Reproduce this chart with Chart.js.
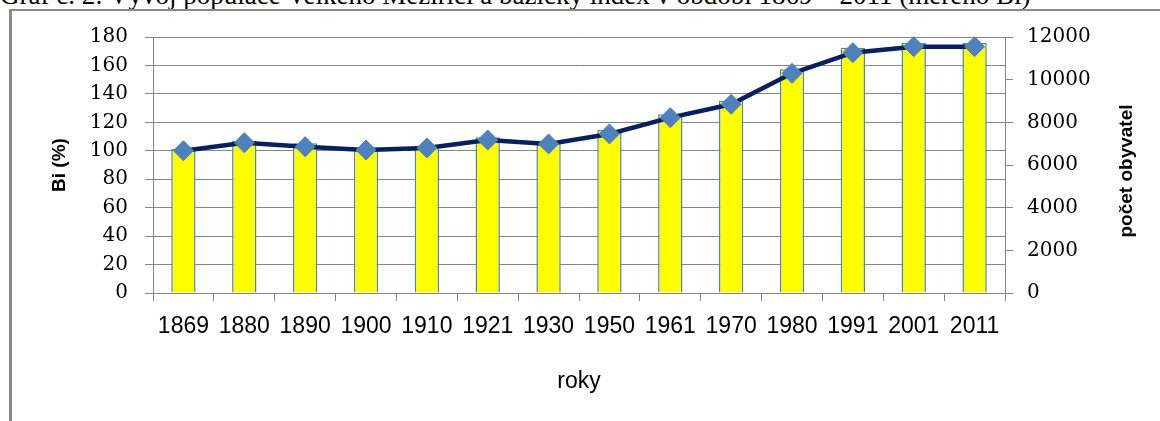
<!DOCTYPE html>
<html>
<head>
<meta charset="utf-8">
<script src="https://cdn.jsdelivr.net/npm/chart.js@4"></script>
<style>
html,body{margin:0;padding:0;background:#fff;overflow:hidden}
#wrap{position:relative;width:1160px;height:421px;overflow:hidden}
#frame{position:absolute;left:9px;top:9px;width:1200px;height:500px;border-left:3px solid #8a8a8a;border-top:2px solid #8a8a8a;box-sizing:border-box}
#title{position:absolute;left:0;top:-20px;font-family:"Liberation Serif",serif;font-size:27px;line-height:31px;white-space:nowrap;color:#000}
canvas{position:absolute;left:0;top:0}
</style>
</head>
<body>
<div id="wrap">
  <div id="title">Graf č. 2: Vývoj populace Velkého Meziříčí a bazický index v období 1869 – 2011 (měřeno Bi)</div>
  <div id="frame"></div>
  <canvas id="c" width="1160" height="421"></canvas>
</div>
<script>
// ---- data ----
const years = ['1869','1880','1890','1900','1910','1921','1930','1950','1961','1970','1980','1991','2001','2011'];
const population = [6750, 7140, 7020, 6780, 6900, 7300, 7050, 7640, 8380, 9010, 10490, 11500, 11730, 11730];
const baseIndex = [100, 105.7, 102.9, 100.5, 102, 107.6, 104.8, 111.8, 123.3, 132.7, 154.5, 169, 173.2, 173.2];
const leftTicks = [0, 20, 40, 60, 80, 100, 120, 140, 160, 180];
const rightTicks = [0, 2000, 4000, 6000, 8000, 10000, 12000];
const xTitle = 'roky';
const leftTitle = 'Bi (%)';
const rightTitle = 'počet obyvatel';

const GRID = '#868686';

const rightTitlePlugin = {
  id: 'rightTitle',
  afterDraw(chart) {
    const ctx = chart.ctx;
    const a = chart.chartArea;
    ctx.save();
    ctx.translate(1127, (a.top + a.bottom) / 2 + 6);
    ctx.rotate(-Math.PI / 2);
    ctx.font = 'bold 19px "Liberation Sans"';
    ctx.fillStyle = '#000';
    ctx.textAlign = 'center';
    ctx.textBaseline = 'middle';
    ctx.fillText(rightTitle, 0, 0);
    ctx.restore();
  }
};

new Chart(document.getElementById('c'), {
  data: {
    labels: years,
    datasets: [
      {
        type: 'line',
        label: 'Bi',
        data: baseIndex,
        yAxisID: 'y',
        borderColor: '#0A1F5E',
        borderWidth: 4.5,
        tension: 0,
        pointStyle: 'rectRot',
        pointRadius: 10,
        pointBackgroundColor: '#4F81BD',
        pointBorderColor: '#4F81BD',
        pointBorderWidth: 1,
        order: 0,
        clip: false
      },
      {
        type: 'bar',
        label: 'počet obyvatel',
        data: population,
        yAxisID: 'y1',
        backgroundColor: '#FFFF00',
        borderColor: '#4F81BD',
        borderWidth: 1.5,
        barPercentage: 0.4,
        categoryPercentage: 1,
        order: 1
      }
    ]
  },
  options: {
    responsive: false,
    animation: false,
    layout: { padding: { top: 37, left: 0, right: 0, bottom: 0 } },
    plugins: { legend: { display: false }, tooltip: { enabled: false } },
    scales: {
      x: {
        offset: true,
        grid: { drawOnChartArea: false, offset: true, tickLength: 8, color: GRID },
        border: { color: GRID, width: 1 },
        ticks: { color: '#000', font: { family: 'Liberation Sans', size: 23 }, padding: 12, maxRotation: 0, autoSkip: false },
        title: { display: true, text: xTitle, color: '#000', font: { family: 'Liberation Sans', size: 23 }, padding: { top: 0, bottom: 26 } },
        afterFit(s) { s.height = 128; }
      },
      y: {
        position: 'left',
        min: 0, max: 180,
        afterBuildTicks(s) { s.ticks = leftTicks.map(v => ({ value: v })); },
        grid: { color: GRID, tickLength: 8 },
        border: { color: GRID, width: 1 },
        ticks: { color: '#000', font: { family: 'DejaVu Serif', size: 20 }, padding: 17, callback: v => String(v) },
        title: { display: true, text: leftTitle, color: '#000', font: { family: 'Liberation Sans', size: 19, weight: 'bold' }, padding: { top: 48, bottom: 0 } },
        afterFit(s) { s.width = 153; }
      },
      y1: {
        position: 'right',
        min: 0, max: 12000,
        afterBuildTicks(s) { s.ticks = rightTicks.map(v => ({ value: v })); },
        grid: { drawOnChartArea: false, color: GRID, tickLength: 8 },
        border: { color: GRID, width: 1 },
        ticks: { color: '#000', font: { family: 'DejaVu Serif', size: 20 }, padding: 14, callback: v => String(v) },
        afterFit(s) { s.width = 155; }
      }
    }
  },
  plugins: [rightTitlePlugin]
});
</script>
</body>
</html>
